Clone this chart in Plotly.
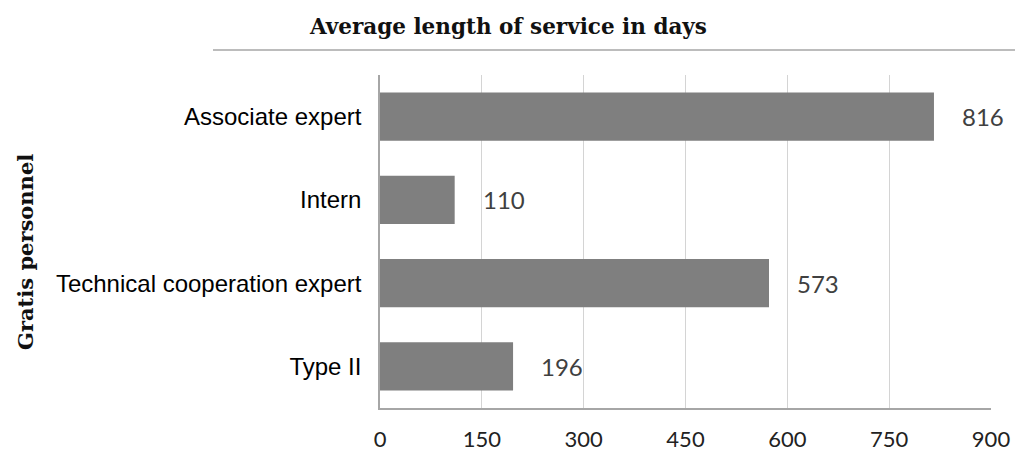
import plotly.graph_objects as go

categories = ["Type II", "Technical cooperation expert", "Intern", "Associate expert"]
values = [196, 573, 110, 816]
tick_vals = [0, 150, 300, 450, 600, 750, 900]
title_text = "Average length of service in days"
y_title = "Gratis personnel"

W, H = 1015, 453
L, R, T, B = 380, 1015 - 991, 75, 453 - 408
pw, ph = W - L - R, H - T - B


def px_x(x):
    return (x - L) / pw


def px_y(y):
    return (H - B - y) / ph


fig = go.Figure()
fig.add_trace(go.Bar(
    y=categories, x=values, orientation="h",
    marker=dict(color="#7f7f7f", line=dict(width=0)),
    width=0.58,
    hoverinfo="skip",
))

for c, v in zip(categories, values):
    fig.add_annotation(x=v, y=c, text=str(v), showarrow=False,
                       xanchor="left", xshift=26,
                       font=dict(family="Lato, Open Sans, sans-serif", size=24, color="#404040"))

fig.add_annotation(xref="paper", yref="paper", x=px_x(508), y=px_y(27),
                   text="<b>" + title_text + "</b>", showarrow=False,
                   xanchor="center", yanchor="middle",
                   font=dict(family="DejaVu Serif, serif", size=21.5, color="#111"))
fig.add_annotation(xref="paper", yref="paper", x=px_x(25), y=px_y(252),
                   text="<b>" + y_title + "</b>", showarrow=False, textangle=-90,
                   xanchor="center", yanchor="middle",
                   font=dict(family="DejaVu Serif, serif", size=21, color="#111"))

fig.add_shape(type="line", xref="paper", yref="paper",
              x0=px_x(213), x1=px_x(1015), y0=px_y(50), y1=px_y(50),
              line=dict(color="#a6a6a6", width=1.5))

fig.update_layout(
    width=W, height=H,
    margin=dict(l=L, r=R, t=T, b=B, pad=0, autoexpand=False),
    plot_bgcolor="white", paper_bgcolor="white",
    showlegend=False,
)
fig.update_xaxes(range=[0, 900], tickvals=tick_vals, ticktext=[str(t) for t in tick_vals],
                 automargin=False,
                 showgrid=True, gridcolor="#d4d4d4", gridwidth=1,
                 showline=True, linecolor="#a6a6a6", linewidth=1.5,
                 zeroline=False, ticks="", ticklabelstandoff=11,
                 tickfont=dict(family="Lato, Open Sans, sans-serif", size=22, color="#222"))
fig.update_yaxes(range=[-0.5, 3.5], categoryorder="array", categoryarray=categories,
                 automargin=False,
                 showgrid=False, showline=True, linecolor="#a6a6a6", linewidth=1.5,
                 zeroline=False, ticks="", ticklabelstandoff=12,
                 tickfont=dict(family="Liberation Sans, Arial, sans-serif", size=24, color="#000"))

fig.write_html("out.html",
               config={"displayModeBar": False},
               post_script="document.body.style.margin='0';document.body.style.overflow='hidden';")
